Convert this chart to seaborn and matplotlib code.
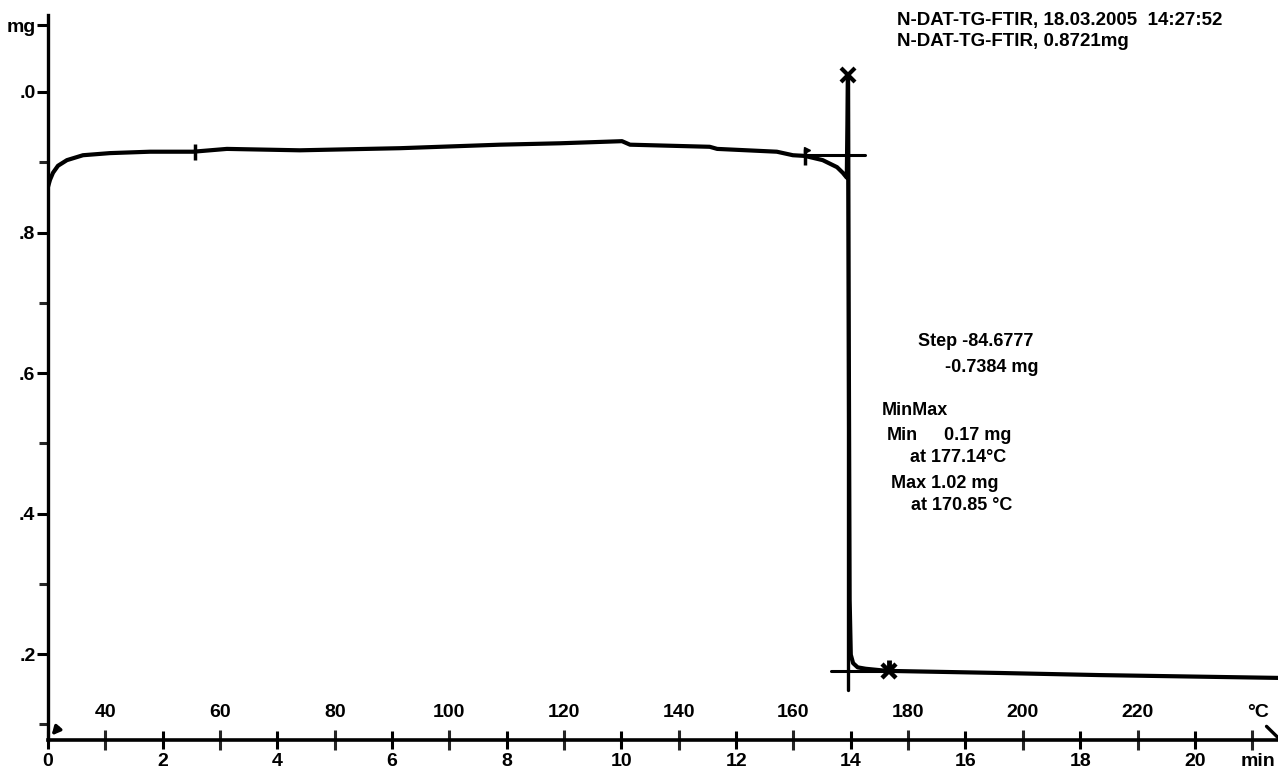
"""
TG curve (N-DAT-TG-FTIR) redrawn from the scanned printout
"""

import pandas as pd
import seaborn as sns
import matplotlib.pyplot as plt

# mass curve: time in min, mass in mg
time_min = [0.0, 0.035, 0.087, 0.174, 0.33, 0.61, 1.08, 1.78, 2.53, 3.12,
            4.39, 6.14, 7.88, 8.93, 10.01, 10.15, 11.54, 11.67, 12.71, 12.99,
            13.2, 13.51, 13.76, 13.86, 13.93, 13.95, 13.98, 14.0, 14.04,
            14.12, 14.26, 14.63, 16.6, 18.34, 21.45]
mass_mg = [0.865, 0.875, 0.885, 0.895, 0.903, 0.910, 0.913, 0.915, 0.915,
           0.919, 0.917, 0.920, 0.925, 0.927, 0.930, 0.925, 0.922, 0.919,
           0.915, 0.910, 0.909, 0.903, 0.893, 0.885, 0.878, 1.02, 0.277,
           0.199, 0.187, 0.181, 0.179, 0.176, 0.173, 0.170, 0.166]

# axis ticks
min_ticks = [0, 2, 4, 6, 8, 10, 12, 14, 16, 18, 20]
min_labels = ["0", "2", "4", "6", "8", "10", "12", "14", "16", "18", "20"]
temp_ticks = [1, 3, 5, 7, 9, 11, 13, 15, 17, 19, 21]
temp_labels = ["40", "60", "80", "100", "120", "140", "160", "180", "200", "220", "°C"]
mg_ticks = [0.2, 0.4, 0.6, 0.8, 1.0, 1.095]
mg_labels = [".2", ".4", ".6", ".8", ".0", "mg"]
mg_minor = [0.1, 0.3, 0.5, 0.7, 0.9]

# step evaluation
step_time = 13.95
step_line_mg = [1.024, 0.149]
upper_level = 0.910
upper_span = [13.1, 14.25]
lower_level = 0.176
lower_span = [13.66, 14.7]
max_point = (13.95, 1.024)
min_point = (14.67, 0.176)
onset_mark = (2.56, 0.915)
flag_mark = (13.2, 0.907)

W, H = 1278, 769

sns.set_theme(style="white")
plt.rcParams["font.family"] = ["Liberation Sans", "DejaVu Sans"]
plt.rcParams["font.weight"] = "bold"

tg = pd.DataFrame({"time_min": time_min, "mass_mg": mass_mg})

fig = plt.figure(figsize=(W / 100, H / 100), dpi=100)
fig.patch.set_facecolor("white")
ax = fig.add_axes([48 / W, (H - 740) / H, (W - 48) / W, (740 - 15) / H])
ax.set_facecolor("white")

sns.lineplot(data=tg, x="time_min", y="mass_mg", sort=False, estimator=None,
             color="black", linewidth=3, ax=ax)

# step evaluation lines
ax.plot([step_time, step_time], step_line_mg, color="black", lw=2.4)
ax.plot(upper_span, [upper_level, upper_level], color="black", lw=2.2)
ax.plot(lower_span, [lower_level, lower_level], color="black", lw=2.2)

# markers
ax.plot(*max_point, marker="x", ms=10, mew=3, color="black")
ax.plot(*min_point, marker="x", ms=10, mew=3.2, color="black")
ax.plot(min_point[0], min_point[1] + 0.008, marker="|", ms=7, mew=3.5, color="black")
ax.plot(*onset_mark, marker="|", ms=11, mew=2.5, color="black")
ax.plot(*flag_mark, marker="|", ms=12, mew=2.5, color="black")
ax.plot(flag_mark[0] + 0.04, flag_mark[1] + 0.011, marker=">", ms=5, color="black")

ax.set_xlim(0, 21.45)
ax.set_ylim(0.0776, 1.1096)
ax.set_xlabel("")
ax.set_ylabel("")

for side in ["top", "right"]:
    ax.spines[side].set_visible(False)
ax.spines["left"].set_linewidth(2.4)
ax.spines["bottom"].set_linewidth(2.6)
ax.spines["left"].set_color("black")
ax.spines["bottom"].set_color("black")

ax.set_xticks(min_ticks)
ax.set_xticklabels(min_labels)
ax.set_xticks(temp_ticks, minor=True)
ax.set_yticks(mg_ticks)
ax.set_yticklabels(mg_labels)
ax.set_yticks(mg_minor, minor=True)

ax.tick_params(axis="x", which="major", direction="inout", length=13, width=2.2,
               pad=2.5, labelsize=14, bottom=True, colors="black")
ax.tick_params(axis="x", which="minor", direction="inout", length=14, width=2.2,
               bottom=True)
ax.tick_params(axis="y", which="major", direction="out", length=8, width=2.2,
               pad=1, labelsize=14, left=True, colors="black")
ax.tick_params(axis="y", which="minor", direction="out", length=6.5, width=2.2,
               left=True)
for lab in ax.get_xticklabels() + ax.get_yticklabels():
    lab.set_fontweight("bold")

# temperature labels above the axis, "min" below
for t, lab in zip(temp_ticks, temp_labels):
    ax.text(t + (0.1 if lab == "°C" else 0), 0.1174, lab, ha="center", va="center",
            fontsize=14, fontweight="bold", color="black")
ax.text(21.1, 0.0463, "min", ha="center", va="center", fontsize=14,
        fontweight="bold", color="black")

# little arrows at the axis ends
ax.annotate("", xy=(0.03, 0.081), xytext=(0.21, 0.098),
            arrowprops=dict(arrowstyle="-|>", color="black", lw=2.4, mutation_scale=12),
            annotation_clip=False)
ax.plot([21.25, 21.45], [0.097, 0.081], color="black", lw=2.4, clip_on=False)


def px(x, y):
    return x / W, 1 - y / H


notes = [
    (897, 21, "N-DAT-TG-FTIR, 18.03.2005  14:27:52", 13.5),
    (897, 42, "N-DAT-TG-FTIR, 0.8721mg", 13.5),
    (918, 341, "Step -84.6777", 13),
    (945, 367, "-0.7384 mg", 13),
    (882, 410, "MinMax", 13),
    (887, 435, "Min", 13),
    (944, 435, "0.17 mg", 13),
    (910, 458, "at 177.14°C", 13),
    (891, 483, "Max 1.02 mg", 13),
    (911, 506, "at 170.85 °C", 13),
]
for x, y, s, size in notes:
    fig.text(*px(x, y), s, ha="left", va="center", fontsize=size,
             fontweight="bold", color="black")

fig.savefig("out.png", dpi=100)
